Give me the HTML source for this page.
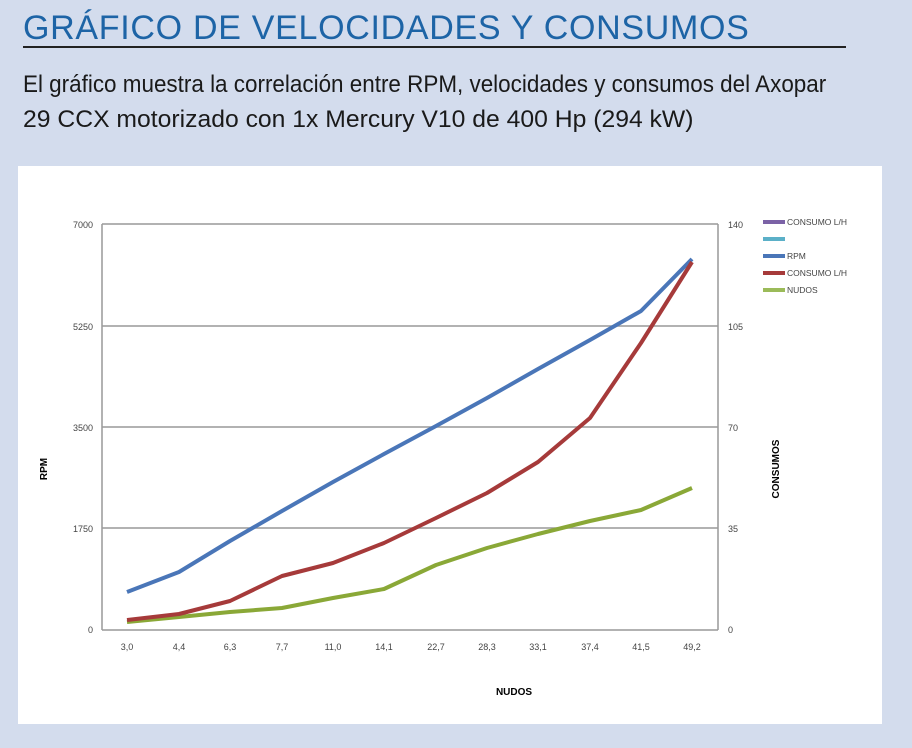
<!DOCTYPE html>
<html><head><meta charset="utf-8"><style>
body{margin:0;width:912px;height:748px;background:#d3dced;overflow:hidden;position:relative;font-family:"Liberation Sans",sans-serif}
.t{position:absolute;left:23px;top:9px;font-size:34px;color:#1d64a6;letter-spacing:0.7px;white-space:nowrap}
.ln{position:absolute;left:23px;top:46px;width:823px;height:2px;background:#222}
.p{position:absolute;left:23px;font-size:24px;line-height:35px;color:#1a1a1a;transform-origin:left top;white-space:nowrap}
.w{position:absolute;left:18px;top:166px;width:864px;height:558px;background:#fff}
</style></head><body>
<div class="t">GRÁFICO DE VELOCIDADES Y CONSUMOS</div>
<div class="ln"></div>
<div class="p" style="top:67px;transform:scaleX(0.935)">El gráfico muestra la correlación entre RPM, velocidades y consumos del Axopar</div>
<div class="p" style="top:102px;transform:scaleX(1.03)">29 CCX motorizado con 1x Mercury V10 de 400 Hp (294 kW)</div>
<div class="w"></div>
<svg width="912" height="748" style="position:absolute;left:0;top:0" font-family="Liberation Sans,sans-serif">
<g stroke="#999" stroke-width="1.5">
<line x1="102" y1="224" x2="718" y2="224"/><line x1="102" y1="326" x2="718" y2="326"/>
<line x1="102" y1="427" x2="718" y2="427"/><line x1="102" y1="528" x2="718" y2="528"/>
<line x1="102" y1="630" x2="718" y2="630"/>
<line x1="102" y1="224" x2="102" y2="630"/><line x1="718" y1="224" x2="718" y2="630"/>
</g>
<g font-size="9" fill="#444" text-anchor="end">
<text x="93" y="228">7000</text><text x="93" y="330">5250</text><text x="93" y="431">3500</text><text x="93" y="532">1750</text><text x="93" y="633">0</text>
</g>
<g font-size="9" fill="#444">
<text x="728" y="228">140</text><text x="728" y="330">105</text><text x="728" y="431">70</text><text x="728" y="532">35</text><text x="728" y="633">0</text>
</g>
<g font-size="9" fill="#444" text-anchor="middle">
<text x="127" y="650">3,0</text><text x="179" y="650">4,4</text><text x="230" y="650">6,3</text><text x="282" y="650">7,7</text><text x="333" y="650">11,0</text><text x="384" y="650">14,1</text><text x="436" y="650">22,7</text><text x="487" y="650">28,3</text><text x="538" y="650">33,1</text><text x="590" y="650">37,4</text><text x="641" y="650">41,5</text><text x="692" y="650">49,2</text>
</g>
<text x="514" y="695" font-size="10" font-weight="bold" text-anchor="middle">NUDOS</text>
<text transform="translate(47,469) rotate(-90)" font-size="10" font-weight="bold" text-anchor="middle">RPM</text>
<text transform="translate(779,469) rotate(-90)" font-size="10" font-weight="bold" text-anchor="middle">CONSUMOS</text>
<g fill="none" stroke-width="4" stroke-linejoin="round">
<polyline stroke="#8aa837" points="127,622 179,617 230,612 282,608 333,598 384,589 436,565 487,548 538,534 590,521 641,510 692,488"/>
<polyline stroke="#4a76b8" points="127,592 179,572 230,541 282,511 333,482 384,454 436,426 487,398 538,369 590,340 641,311 692,259"/>
<polyline stroke="#a63a3a" points="127,620 179,614 230,601 282,576 333,563 384,543 436,518 487,493 538,462 590,418 641,343 692,262"/>
</g>
<g stroke-width="4">
<line x1="763" y1="222" x2="785" y2="222" stroke="#7b62a6"/>
<line x1="763" y1="239" x2="785" y2="239" stroke="#5bb0c8"/>
<line x1="763" y1="256" x2="785" y2="256" stroke="#4a76b8"/>
<line x1="763" y1="273" x2="785" y2="273" stroke="#a63a3a"/>
<line x1="763" y1="290" x2="785" y2="290" stroke="#9bbb59"/>
</g>
<g font-size="8.5" fill="#444">
<text x="787" y="225">CONSUMO L/H</text><text x="787" y="259">RPM</text><text x="787" y="276">CONSUMO L/H</text><text x="787" y="293">NUDOS</text>
</g>
</svg>
</body></html>
